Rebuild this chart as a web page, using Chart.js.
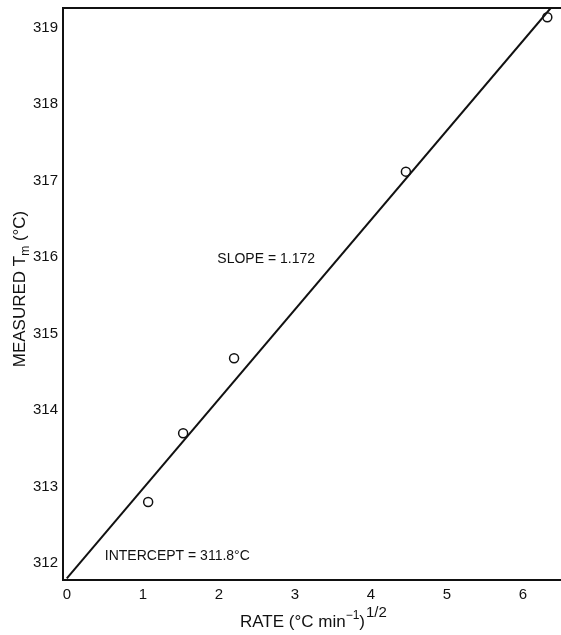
<!DOCTYPE html>
<html>
<head>
<meta charset="utf-8">
<script src="https://cdn.jsdelivr.net/npm/chart.js@4/dist/chart.umd.min.js"></script>
<style>
  html, body { margin: 0; padding: 0; background: #fff; }
  canvas { display: block; }
</style>
</head>
<body>
<canvas id="c" width="561" height="635"></canvas>
<script>
// Measured melting temperature versus square root of heating rate
const rateValues = [1.07, 1.53, 2.2, 4.46, 6.32];
const tmValues = [312.80, 313.70, 314.68, 317.12, 319.14];
const xTickValues = [0, 1, 2, 3, 4, 5, 6];
const yTickValues = [312, 313, 314, 315, 316, 317, 318, 319];
const fitSlope = 1.172;
const fitIntercept = 311.8;
const slopeLabel = 'SLOPE = 1.172';
const interceptLabel = 'INTERCEPT = 311.8°C';

const X_MIN = -0.05, X_MAX = 6.5;
const Y_MIN = 311.78, Y_MAX = 319.26;

const FONT = '"Liberation Sans", Arial, sans-serif';
const INK = '#111';

// fitted straight line from x = 0 up to where it leaves the top of the plot
const fitEndX = (Y_MAX - fitIntercept) / fitSlope;
const fitLine = [0, fitEndX].map(x => ({ x: x, y: fitIntercept + fitSlope * x }));
const points = rateValues.map((x, i) => ({ x: x, y: tmValues[i] }));

// frame, annotations and axis titles with sub/superscripts
const decorations = {
  id: 'decorations',
  afterDraw(chart) {
    const ctx = chart.ctx;
    const a = chart.chartArea;
    const xs = chart.scales.x, ys = chart.scales.y;
    ctx.save();
    ctx.strokeStyle = INK;
    ctx.lineWidth = 2;
    ctx.beginPath();
    ctx.moveTo(a.left, a.top);
    ctx.lineTo(a.right, a.top);
    ctx.stroke();

    ctx.fillStyle = INK;
    ctx.textBaseline = 'middle';
    ctx.textAlign = 'left';
    ctx.font = '14px ' + FONT;
    ctx.fillText(slopeLabel, xs.getPixelForValue(1.98), ys.getPixelForValue(315.97));
    ctx.fillText(interceptLabel, xs.getPixelForValue(0.5), ys.getPixelForValue(312.09));

    // x axis title: RATE (°C min^-1)^1/2
    let x = 240, base = 627;
    ctx.textBaseline = 'alphabetic';
    const seg = (t, size, dy) => {
      ctx.font = size + 'px ' + FONT;
      ctx.fillText(t, x, base + dy);
      x += ctx.measureText(t).width;
    };
    seg('RATE (°C min', 17, 0);
    seg('−1', 12, -8);
    seg(')', 17, 0);
    x += 1;
    seg('1/2', 15, -10);

    // y axis title: MEASURED Tm (°C), rotated
    ctx.translate(25, 289);
    ctx.rotate(-Math.PI / 2);
    const parts = [['MEASURED T', 17, 0], ['m', 12, 4], [' (°C)', 17, 0]];
    let total = 0;
    parts.forEach(p => { ctx.font = p[1] + 'px ' + FONT; total += ctx.measureText(p[0]).width; });
    x = -total / 2; base = 0;
    parts.forEach(p => seg(p[0], p[1], p[2]));
    ctx.restore();
  }
};

new Chart(document.getElementById('c'), {
  type: 'scatter',
  data: {
    datasets: [
      {
        type: 'line',
        data: fitLine,
        borderColor: INK,
        borderWidth: 2,
        pointRadius: 0,
        fill: false,
        tension: 0
      },
      {
        data: points,
        pointStyle: 'circle',
        pointRadius: 4.5,
        pointBackgroundColor: '#fff',
        pointBorderColor: INK,
        pointBorderWidth: 1.5
      }
    ]
  },
  options: {
    responsive: false,
    animation: false,
    layout: { autoPadding: false, padding: { top: 8, right: 0, left: 0, bottom: 0 } },
    plugins: { legend: { display: false }, tooltip: { enabled: false } },
    scales: {
      x: {
        type: 'linear',
        min: X_MIN,
        max: X_MAX,
        afterBuildTicks: s => { s.ticks = xTickValues.map(v => ({ value: v })); },
        afterFit: s => { s.height = 55; s.paddingLeft = 0; s.paddingRight = 0; },
        grid: { display: false, drawTicks: false },
        border: { display: true, color: INK, width: 2 },
        ticks: {
          color: INK,
          padding: 6,
          maxRotation: 0,
          font: { family: FONT, size: 15 },
          callback: v => String(v)
        }
      },
      y: {
        type: 'linear',
        min: Y_MIN,
        max: Y_MAX,
        afterBuildTicks: s => { s.ticks = yTickValues.map(v => ({ value: v })); },
        afterFit: s => { s.width = 63; s.paddingTop = 0; s.paddingBottom = 0; },
        grid: { display: false, drawTicks: false },
        border: { display: true, color: INK, width: 2 },
        ticks: {
          color: INK,
          padding: 5,
          font: { family: FONT, size: 15 },
          callback: v => String(v)
        }
      }
    }
  },
  plugins: [decorations]
});
</script>
</body>
</html>
